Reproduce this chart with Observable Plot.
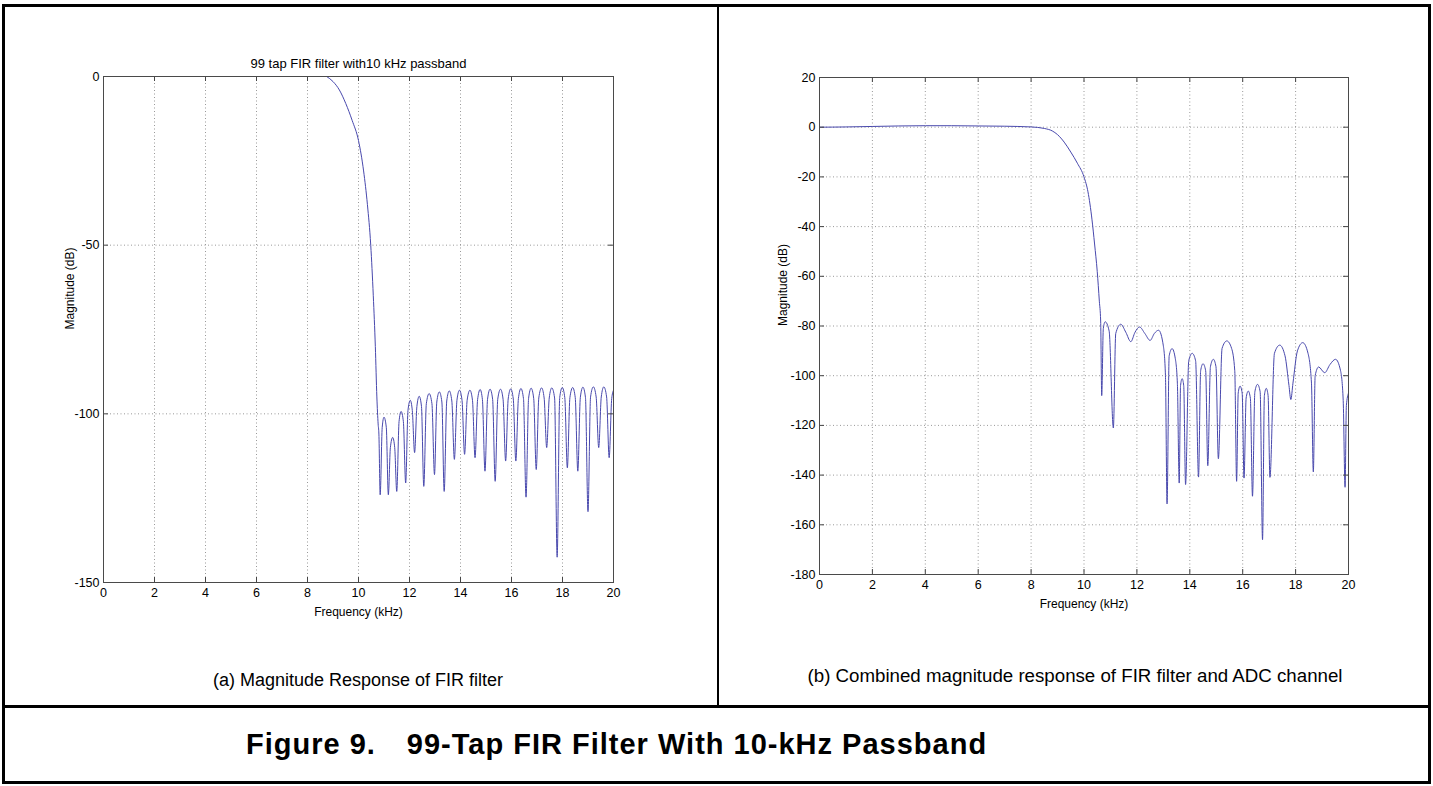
<!DOCTYPE html>
<html>
<head>
<meta charset="utf-8">
<script src="https://cdn.jsdelivr.net/npm/d3@7"></script>
<script src="https://cdn.jsdelivr.net/npm/@observablehq/plot@0.6"></script>
<style>
  html, body { margin: 0; padding: 0; background: #fff; }
  body { width: 1433px; height: 786px; position: relative; overflow: hidden; font-family: Arial, "Liberation Sans", sans-serif; }
  .panel { position: absolute; top: 0; }
  .line { position: absolute; background: #000; z-index: 5; }
  .cap { position: absolute; white-space: nowrap; transform: translate(-50%, -50%); color: #000; }
  .capL { position: absolute; white-space: nowrap; transform: translate(0, -50%); color: #000; }
</style>
</head>
<body>
<div id="left" class="panel" style="left:0px"></div>
<div id="right" class="panel" style="left:718px"></div>

<div class="line" style="left:2px;top:4px;width:1429px;height:3px"></div>
<div class="line" style="left:2px;top:781px;width:1429px;height:3px"></div>
<div class="line" style="left:2px;top:4px;width:3px;height:780px"></div>
<div class="line" style="left:1428px;top:4px;width:3px;height:780px"></div>
<div class="line" style="left:717px;top:4px;width:2px;height:702px"></div>
<div class="line" style="left:2px;top:705px;width:1429px;height:3px"></div>

<div class="cap" id="capA" style="left:358px;top:680px;font-size:18px"></div>
<div class="cap" id="capB" style="left:1075px;top:676px;font-size:18.7px"></div>
<div class="capL" id="capFig" style="left:246px;top:744px;font-size:29px;font-weight:bold;letter-spacing:1px"></div>

<script>
// ---------- data ----------
const xTicks = [0, 2, 4, 6, 8, 10, 12, 14, 16, 18, 20];
const firYTicks = [0, -50, -100, -150];
const adcYTicks = [20, 0, -20, -40, -60, -80, -100, -120, -140, -160, -180];

const firTitle = "99 tap FIR filter with10 kHz passband";
const xLabel = "Frequency (kHz)";
const yLabel = "Magnitude (dB)";
const captionA = "(a) Magnitude Response of FIR filter";
const captionB = "(b) Combined magnitude response of FIR filter and ADC channel";
const figureCaption = "Figure 9.\u2002\u200299-Tap FIR Filter With 10-kHz Passband";

// (a) FIR filter magnitude response, kHz / dB
const firFreq = [8.75, 9.0, 9.25, 9.5, 9.75, 10.0, 10.2, 10.35, 10.48, 10.58, 10.66, 10.72, 10.77, 10.80,
  10.85, 10.93, 11.0, 11.09,
  11.17, 11.25, 11.34, 11.42,
  11.50, 11.59, 11.67, 11.76,
  11.85, 11.94, 12.03, 12.11,
  12.20, 12.29, 12.38, 12.47,
  12.56, 12.66, 12.77, 12.88,
  12.98, 13.07, 13.17, 13.27,
  13.36, 13.46, 13.56, 13.66,
  13.76, 13.86, 13.96, 14.06,
  14.16, 14.26, 14.37, 14.47,
  14.57, 14.67, 14.77, 14.86,
  14.96, 15.06, 15.16, 15.26,
  15.36, 15.46, 15.57, 15.67,
  15.77, 15.87, 15.97, 16.07,
  16.17, 16.27, 16.37, 16.47,
  16.57, 16.67, 16.77, 16.87,
  16.97, 17.07, 17.18, 17.28,
  17.38, 17.48, 17.58, 17.69,
  17.79, 17.89, 17.99, 18.09,
  18.19, 18.29, 18.40, 18.50,
  18.60, 18.70, 18.80, 18.90,
  19.00, 19.10, 19.21, 19.32,
  19.42, 19.52, 19.62, 19.73,
  19.83, 19.93, 20.0];
const firMag = [0, -1.5, -4, -8, -13, -19, -28, -38, -50, -65, -80, -95, -103, -106,
  -124, -104, -101, -104,
  -124, -110, -107, -110,
  -123, -102.3, -99.3, -102.3,
  -120.5, -99, -96, -99,
  -111.5, -97.8, -94.8, -97.8,
  -121.5, -97, -94, -97,
  -118, -96.5, -93.5, -96.5,
  -123, -96.2, -93.2, -96.2,
  -113.5, -96, -93, -96,
  -112, -96, -93, -96,
  -113, -95.8, -92.8, -95.8,
  -117, -95.7, -92.7, -95.7,
  -120, -95.7, -92.7, -95.7,
  -114, -95.6, -92.6, -95.6,
  -114, -95.5, -92.5, -95.5,
  -124.7, -95.4, -92.4, -95.4,
  -116.5, -95.3, -92.3, -95.3,
  -110, -95.3, -92.3, -95.3,
  -142.5, -95.2, -92.2, -95.2,
  -116, -95.2, -92.2, -95.2,
  -117, -95.1, -92.1, -95.1,
  -129, -95, -92, -95,
  -110, -95, -92, -95,
  -113, -95.5, -93];

// (b) combined FIR + ADC channel magnitude response, kHz / dB
const adcFreq = [0, 1, 2, 3, 4, 5, 6, 7, 8, 8.5, 8.8, 9.0, 9.25, 9.5, 9.75, 10.0, 10.15, 10.3, 10.4, 10.5, 10.58, 10.63,
  10.67, 10.73, 10.8, 10.95,
  11.11, 11.2, 11.39, 11.58, 11.77, 11.93, 12.1, 12.3, 12.5, 12.66, 12.82, 13.0, 13.08,
  13.14, 13.22, 13.33, 13.45, 13.53,
  13.6, 13.65, 13.71, 13.77,
  13.84, 13.96, 14.09, 14.22,
  14.33, 14.41, 14.5, 14.6,
  14.68, 14.78, 14.89, 14.99,
  15.08, 15.22, 15.4, 15.58, 15.7,
  15.77, 15.83, 15.9, 15.98,
  16.05, 16.13, 16.21, 16.29,
  16.37, 16.46, 16.56, 16.66,
  16.75, 16.82, 16.89, 16.96,
  17.03, 17.2, 17.4, 17.6, 17.75, 17.82, 17.9, 18.07, 18.27, 18.47, 18.6,
  18.67, 18.74, 18.87, 19.1, 19.3, 19.51, 19.7, 19.8,
  19.87, 19.92, 20];
const adcMag = [0, 0.1, 0.3, 0.5, 0.6, 0.6, 0.5, 0.4, 0.1, -0.5, -1.5, -3, -6, -10, -14.5, -20, -26, -37, -47, -58, -70, -78,
  -108, -81, -78.3, -82,
  -121, -83, -79.3, -82.5, -86.3, -82.5, -80.4, -83, -85.8, -83, -81.7, -88, -100,
  -151.6, -92, -89.1, -93, -103,
  -143.2, -104, -101.2, -104,
  -143.8, -94, -91, -94,
  -140.8, -98, -95.2, -98,
  -136.2, -96.4, -93.4, -96.4,
  -133.4, -89, -86, -89, -98,
  -142.5, -107, -104.2, -107,
  -141.2, -109, -106.2, -109,
  -148.5, -106.5, -103.5, -106.5,
  -166, -108, -105.1, -108,
  -140.9, -91, -87.7, -92, -104, -109.6, -103, -90, -86.7, -91, -103,
  -138.7, -100, -96.5, -98.8, -95.5, -93.4, -98, -110,
  -144.9, -112, -107];

// ---------- drawing ----------
const FONT = "Arial, 'Liberation Sans', sans-serif";
const LINE_COLOR = "#4848ad";

function panel({freq, mag, yTicks, width, height, ml, mr, mt, mb, title, xLabelDy, yLabelDx}) {
  const data = freq.map((f, i) => ({f, m: mag[i]}));
  const pw = width - ml - mr, ph = height - mt - mb;
  const yDomain = [d3.min(yTicks), d3.max(yTicks)];
  const marks = [
    Plot.gridX(xTicks, {stroke: "#999", strokeOpacity: 1, strokeDasharray: "1,2.5"}),
    Plot.gridY(yTicks, {stroke: "#999", strokeOpacity: 1, strokeDasharray: "1,2.5"}),
    Plot.line(data, {x: "f", y: "m", stroke: LINE_COLOR, strokeWidth: 1, curve: "monotone-x", clip: true}),
    // inward ticks on all four sides (MATLAB style)
    Plot.tickX(xTicks, {x: d => d, stroke: "#444", insetTop: ph - 5}),
    Plot.tickX(xTicks, {x: d => d, stroke: "#444", insetBottom: ph - 5}),
    Plot.tickY(yTicks, {y: d => d, stroke: "#444", insetRight: pw - 5}),
    Plot.tickY(yTicks, {y: d => d, stroke: "#444", insetLeft: pw - 5}),
    Plot.frame({stroke: "#4a4a4a", strokeWidth: 1}),
    Plot.axisX(xTicks, {anchor: "bottom", tickSize: 0, tickPadding: 6, label: null, fontSize: 12.5, tickFormat: d => String(d)}),
    Plot.axisY(yTicks, {anchor: "left", tickSize: 0, tickPadding: 4, label: null, fontSize: 12.5, tickFormat: d => String(d)}),
    Plot.text([xLabel], {frameAnchor: "bottom", dy: xLabelDy, text: d => d, fontSize: 12, fill: "#000"}),
    Plot.text([yLabel], {frameAnchor: "left", dx: yLabelDx, rotate: -90, text: d => d, fontSize: 12, fill: "#000"})
  ];
  if (title) marks.push(Plot.text([title], {frameAnchor: "top", dy: -18, text: d => d, fontSize: 13, fill: "#000"}));
  return Plot.plot({
    width, height,
    marginLeft: ml, marginRight: mr, marginTop: mt, marginBottom: mb,
    style: {fontFamily: FONT, fontSize: "12px", color: "#000", background: "transparent", overflow: "visible"},
    x: {domain: [0, 20]},
    y: {domain: yDomain},
    marks
  });
}

document.getElementById("left").append(panel({
  freq: firFreq, mag: firMag, yTicks: firYTicks,
  width: 718, height: 706, ml: 103, mr: 105, mt: 76, mb: 124,
  title: firTitle, xLabelDy: 33, yLabelDx: -33
}));
document.getElementById("right").append(panel({
  freq: adcFreq, mag: adcMag, yTicks: adcYTicks,
  width: 712, height: 706, ml: 101, mr: 82, mt: 77, mb: 132,
  title: null, xLabelDy: 33, yLabelDx: -36
}));

document.getElementById("capA").textContent = captionA;
document.getElementById("capB").textContent = captionB;
document.getElementById("capFig").textContent = figureCaption;
</script>
</body>
</html>
